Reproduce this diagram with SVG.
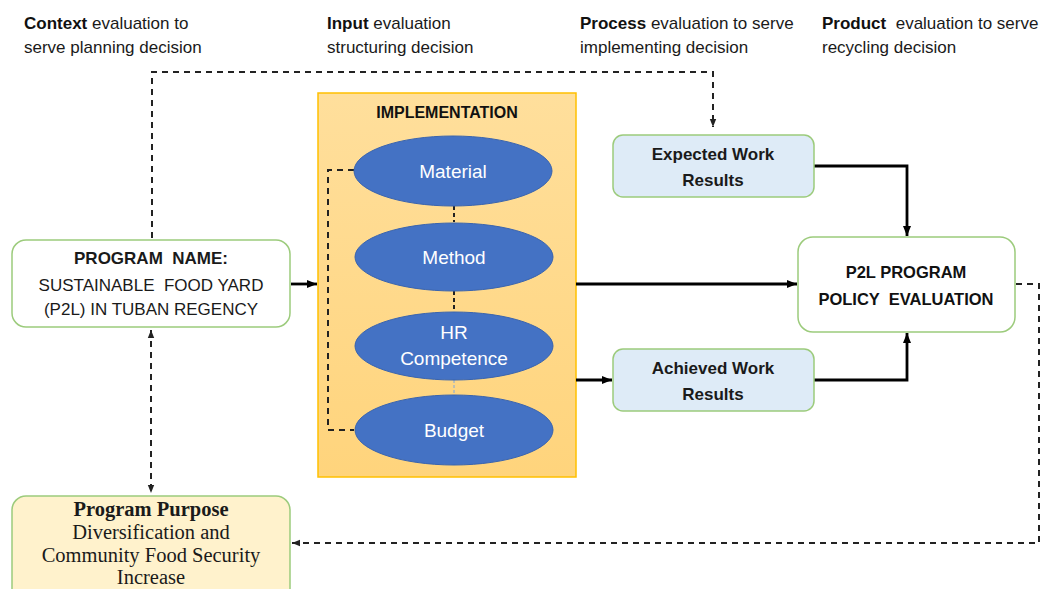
<svg xmlns="http://www.w3.org/2000/svg" width="1048" height="589" viewBox="0 0 1048 589">
<style>
.lbl{font-family:"Liberation Sans",Arial,sans-serif;font-size:17px;fill:#1a1a1a}
.b{font-weight:bold;fill:#111}
.node{fill:#fff;stroke:#9ccb7c;stroke-width:1.5}
.blue{fill:#deebf7;stroke:#9ccb7c;stroke-width:1.5}
.ell{fill:#4472c4;stroke:#3a64ae;stroke-width:1}
.et{font-family:"Liberation Sans",Arial,sans-serif;font-size:19px;fill:#fff;text-anchor:middle}
.nt{font-family:"Liberation Sans",Arial,sans-serif;font-size:17px;fill:#1a1a1a;text-anchor:middle}
.st{font-family:"Liberation Serif","Times New Roman",serif;font-size:20.5px;fill:#1a1a1a;text-anchor:middle}
.solid{fill:none;stroke:#000;stroke-width:2.8}
.dash{fill:none;stroke:#222;stroke-width:2;stroke-dasharray:6 5}
</style>
<defs>
<linearGradient id="impl" x1="0" y1="0" x2="0" y2="1">
<stop offset="0" stop-color="#ffdf9c"/>
<stop offset="1" stop-color="#ffd47c"/>
</linearGradient>
<marker id="ah" markerUnits="userSpaceOnUse" markerWidth="10" markerHeight="10" viewBox="0 0 10 10" refX="10" refY="5" orient="auto">
<path d="M0,1 L10,5 L0,9 z" fill="#000"/>
</marker>
<marker id="ahs" markerUnits="userSpaceOnUse" markerWidth="8" markerHeight="8" viewBox="0 0 10 10" refX="10" refY="5" orient="auto-start-reverse">
<path d="M0,1 L10,5 L0,9 z" fill="#222"/>
</marker>
</defs>
<rect width="1048" height="589" fill="#fff"/>

<g id="labels">
<text class="lbl" x="24" y="29"><tspan class="b">Context</tspan> evaluation to</text>
<text class="lbl" x="24" y="53">serve planning decision</text>
<text class="lbl" x="327" y="29"><tspan class="b">Input</tspan> evaluation</text>
<text class="lbl" x="327" y="53">structuring decision</text>
<text class="lbl" x="580" y="29"><tspan class="b">Process</tspan> evaluation to serve</text>
<text class="lbl" x="580" y="53">implementing decision</text>
<text class="lbl" x="822" y="29" xml:space="preserve"><tspan class="b">Product</tspan>  evaluation to serve</text>
<text class="lbl" x="822" y="53">recycling decision</text>
</g>

<g id="implementation">
<rect x="318" y="93" width="258" height="384" fill="url(#impl)" stroke="#ffc000" stroke-width="1.5"/>
<text x="447" y="118" text-anchor="middle" font-family="Liberation Sans, Arial, sans-serif" font-size="16" font-weight="bold" fill="#111">IMPLEMENTATION</text>
</g>

<g id="connectors">
<path class="dash" d="M152,238 V72 H713 V127" marker-end="url(#ahs)"/>
<path class="solid" d="M291,284 H317" marker-end="url(#ah)"/>
<path class="dash" d="M151,330 V493" marker-start="url(#ahs)" marker-end="url(#ahs)"/>
<path class="solid" d="M576,284 H797" marker-end="url(#ah)"/>
<path class="solid" d="M576,380 H612" marker-end="url(#ah)"/>
<path class="solid" d="M814,166 H907 V236" marker-end="url(#ah)"/>
<path class="solid" d="M814,380 H907 V333" marker-end="url(#ah)"/>
<path class="dash" d="M1016,284 H1039 V543 H292" marker-end="url(#ahs)"/>
<path class="dash" d="M354,170 H328 V430 H354"/>
<path d="M454,206 V222" stroke="#222" stroke-width="2" stroke-dasharray="4 3"/>
<path d="M454,291 V311" stroke="#222" stroke-width="2" stroke-dasharray="4 3"/>
<path d="M454,380 V395" stroke="#7fa6dc" stroke-width="1" stroke-dasharray="3 2"/>
</g>

<g id="material">
<ellipse class="ell" cx="453" cy="171" rx="99" ry="35"/>
<text class="et" x="453" y="178">Material</text>
</g>
<g id="method">
<ellipse class="ell" cx="454" cy="257" rx="99" ry="34"/>
<text class="et" x="454" y="264">Method</text>
</g>
<g id="hr-competence">
<ellipse class="ell" cx="454" cy="346" rx="99" ry="34"/>
<text class="et" x="454" y="339">HR</text>
<text class="et" x="454" y="365">Competence</text>
</g>
<g id="budget">
<ellipse class="ell" cx="454" cy="430" rx="99" ry="35"/>
<text class="et" x="454" y="437">Budget</text>
</g>

<g id="program-name">
<rect class="node" x="12" y="240" width="278" height="87" rx="14"/>
<text class="nt b" x="151" y="264" font-size="17.5" xml:space="preserve">PROGRAM  NAME:</text>
<text class="nt" x="151" y="291" xml:space="preserve">SUSTAINABLE  FOOD YARD</text>
<text class="nt" x="151" y="315">(P2L) IN TUBAN REGENCY</text>
</g>

<g id="program-purpose">
<rect x="12" y="496" width="278" height="110" rx="14" fill="#fff2cc" stroke="#9ccb7c" stroke-width="1.5"/>
<text class="st" x="151" y="516" font-weight="bold" fill="#111">Program Purpose</text>
<text class="st" x="151" y="539">Diversification and</text>
<text class="st" x="151" y="562">Community Food Security</text>
<text class="st" x="151" y="584">Increase</text>
</g>

<g id="expected">
<rect class="blue" x="613" y="135" width="201" height="62" rx="10"/>
<text class="nt b" x="713" y="160">Expected Work</text>
<text class="nt b" x="713" y="186">Results</text>
</g>

<g id="achieved">
<rect class="blue" x="613" y="349" width="201" height="62" rx="10"/>
<text class="nt b" x="713" y="374">Achieved Work</text>
<text class="nt b" x="713" y="400">Results</text>
</g>

<g id="evaluation">
<rect class="node" x="798" y="237" width="217" height="95" rx="15"/>
<text x="906" y="278" text-anchor="middle" font-family="Liberation Sans, Arial, sans-serif" font-size="16.5" font-weight="bold" fill="#111">P2L PROGRAM</text>
<text x="906" y="305" text-anchor="middle" font-family="Liberation Sans, Arial, sans-serif" font-size="16.5" font-weight="bold" fill="#111" xml:space="preserve">POLICY  EVALUATION</text>
</g>
</svg>
